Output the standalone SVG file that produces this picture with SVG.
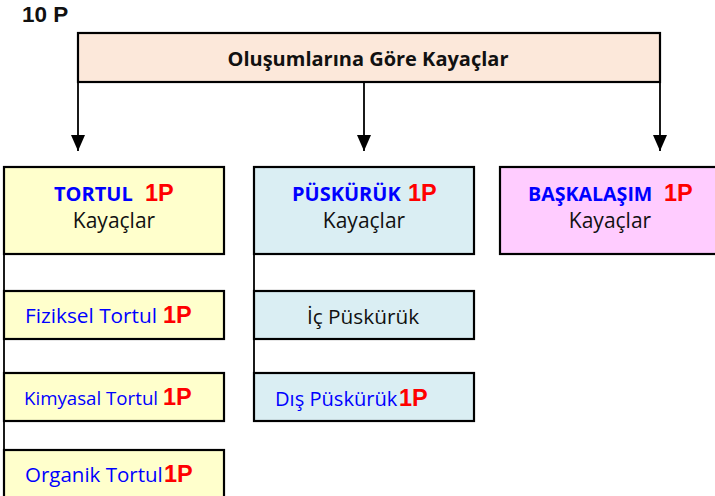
<svg xmlns="http://www.w3.org/2000/svg" width="715" height="496" viewBox="0 0 715 496">
<defs>
<marker id="ah" markerWidth="16" markerHeight="14" refX="16" refY="7" orient="auto" markerUnits="userSpaceOnUse" viewBox="0 0 16 14">
<path d="M0,0 L16,7 L0,14 Z" fill="#000"/>
</marker>
<style>
.box{stroke:#000;stroke-width:2.2}
.top{fill:#FCE8DA}
.y{fill:#FFFFCC}
.b{fill:#DAEEF3}
.p{fill:#FFCCFF}
.c{font-family:"Open Sans","Noto Sans","Liberation Sans",sans-serif}
.bl{fill:#0000FF}
.k{fill:#111}
.r{font-family:"Liberation Sans",Arial,sans-serif;font-weight:bold;fill:#FF0000;font-size:23.5px}
.ln{stroke:#000;stroke-width:1.8;fill:none}
</style>
</defs>
<rect width="715" height="496" fill="#fff"/>
<text x="22" y="22" font-family="Liberation Sans, Arial, sans-serif" font-weight="bold" font-size="22.5" fill="#111">10 P</text>
<g id="connectors">
<line class="ln" x1="78" y1="83" x2="78" y2="151" marker-end="url(#ah)"/>
<line class="ln" x1="364" y1="83" x2="364" y2="151" marker-end="url(#ah)"/>
<line class="ln" x1="660" y1="83" x2="660" y2="151" marker-end="url(#ah)"/>
<line class="ln" x1="4" y1="254" x2="4" y2="496" stroke-width="2.2"/>
<line class="ln" x1="254" y1="254" x2="254" y2="421" stroke-width="2.2"/>
</g>
<g id="root">
<rect class="box top" x="78" y="33" width="582" height="49"/>
<text class="c" x="368" y="66" text-anchor="middle" font-weight="bold" font-size="20" fill="#111">Oluşumlarına Göre Kayaçlar</text>
</g>
<g id="tortul">
<rect class="box y" x="4" y="167" width="220" height="87"/>
<text x="54" y="201"><tspan class="c bl" font-weight="bold" font-size="20">TORTUL</tspan><tspan class="r" x="145">1P</tspan></text>
<text class="c k" x="114" y="228" text-anchor="middle" font-size="21">Kayaçlar</text>
</g>
<g id="puskuruk">
<rect class="box b" x="254" y="167" width="220" height="87"/>
<text x="292" y="201"><tspan class="c bl" font-weight="bold" font-size="20">PÜSKÜRÜK</tspan><tspan class="r" x="408">1P</tspan></text>
<text class="c k" x="364" y="228" text-anchor="middle" font-size="21">Kayaçlar</text>
</g>
<g id="baskalasim">
<rect class="box p" x="500" y="167" width="220" height="87"/>
<text x="528" y="201"><tspan class="c bl" font-weight="bold" font-size="19.6">BAŞKALAŞIM</tspan><tspan class="r" x="664">1P</tspan></text>
<text class="c k" x="610" y="228" text-anchor="middle" font-size="21">Kayaçlar</text>
</g>
<g id="fiziksel">
<rect class="box y" x="4" y="291" width="220" height="48"/>
<text x="25" y="323"><tspan class="c bl" font-size="20.8">Fiziksel Tortul</tspan><tspan class="r" x="163">1P</tspan></text>
</g>
<g id="kimyasal">
<rect class="box y" x="4" y="373" width="220" height="48"/>
<text x="24" y="405"><tspan class="c bl" font-size="18.7">Kimyasal Tortul</tspan><tspan class="r" x="163">1P</tspan></text>
</g>
<g id="organik">
<rect class="box y" x="4" y="450" width="220" height="50"/>
<text x="25" y="482"><tspan class="c bl" font-size="20.5">Organik Tortul</tspan><tspan class="r" x="164">1P</tspan></text>
</g>
<g id="ic">
<rect class="box b" x="254" y="291" width="220" height="48"/>
<text class="c k" x="363" y="324" text-anchor="middle" font-size="20.8">İç Püskürük</text>
</g>
<g id="dis">
<rect class="box b" x="254" y="373" width="220" height="48"/>
<text x="275" y="406"><tspan class="c bl" font-size="20.1">Dış Püskürük</tspan><tspan class="r" x="399">1P</tspan></text>
</g>
</svg>
